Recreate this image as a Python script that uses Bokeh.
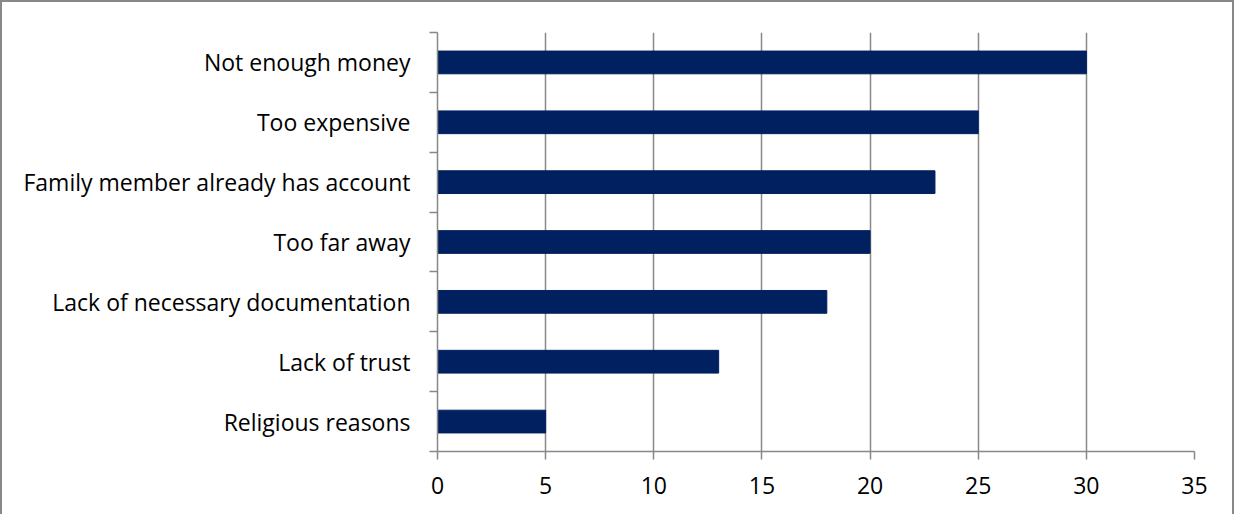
from bokeh.plotting import figure
from bokeh.models import FixedTicker, Range1d
from bokeh.embed import file_html
from bokeh.resources import INLINE

categories = ["Religious reasons", "Lack of trust", "Lack of necessary documentation",
              "Too far away", "Family member already has account", "Too expensive",
              "Not enough money"]
values = [5, 13, 18, 20, 23, 25, 30]
x_ticks = [0, 5, 10, 15, 20, 25, 30, 35]

FONT = "Open Sans"
GRAY = "#888888"

centers = [i + 0.5 for i in range(len(categories))]

p = figure(width=1234, height=514, output_backend="svg", toolbar_location=None,
           x_range=Range1d(0, 35), y_range=Range1d(0, len(categories)),
           min_border_left=435, min_border_right=42, min_border_top=30,
           min_border_bottom=65)
p.styles = {"border-top": "2px solid #888888", "border-left": "2px solid #888888",
            "border-right": "2px solid #888888"}
p.outline_line_color = None

p.hbar(y=centers, right=values, left=0, height=0.38, color="#002060")

p.xaxis.ticker = FixedTicker(ticks=x_ticks)
p.xaxis.axis_line_color = GRAY
p.xaxis.axis_line_width = 1.5
p.xaxis.major_tick_line_color = GRAY
p.xaxis.major_tick_line_width = 1.5
p.xaxis.major_tick_in = 0
p.xaxis.major_tick_out = 8
p.xaxis.minor_tick_line_color = None
p.xaxis.major_label_text_font = FONT
p.xaxis.major_label_text_font_size = "23px"
p.xaxis.major_label_text_color = "#000000"
p.xaxis.major_label_standoff = 17

p.yaxis.ticker = FixedTicker(ticks=centers, minor_ticks=list(range(len(categories) + 1)))
p.yaxis.major_label_overrides = {c: lab for c, lab in zip(centers, categories)}
p.yaxis.axis_line_color = GRAY
p.yaxis.axis_line_width = 1.5
p.yaxis.major_tick_line_color = None
p.yaxis.major_tick_in = 0
p.yaxis.major_tick_out = 0
p.yaxis.minor_tick_line_color = GRAY
p.yaxis.minor_tick_line_width = 1.5
p.yaxis.minor_tick_in = 0
p.yaxis.minor_tick_out = 8
p.yaxis.major_label_text_font = FONT
p.yaxis.major_label_text_font_size = "23px"
p.yaxis.major_label_text_color = "#000000"
p.yaxis.major_label_standoff = 19

p.xgrid.ticker = FixedTicker(ticks=x_ticks)
p.xgrid.grid_line_color = GRAY
p.xgrid.grid_line_width = 1.5
p.ygrid.grid_line_color = None

open("out.html", "w").write(file_html(p, INLINE))
